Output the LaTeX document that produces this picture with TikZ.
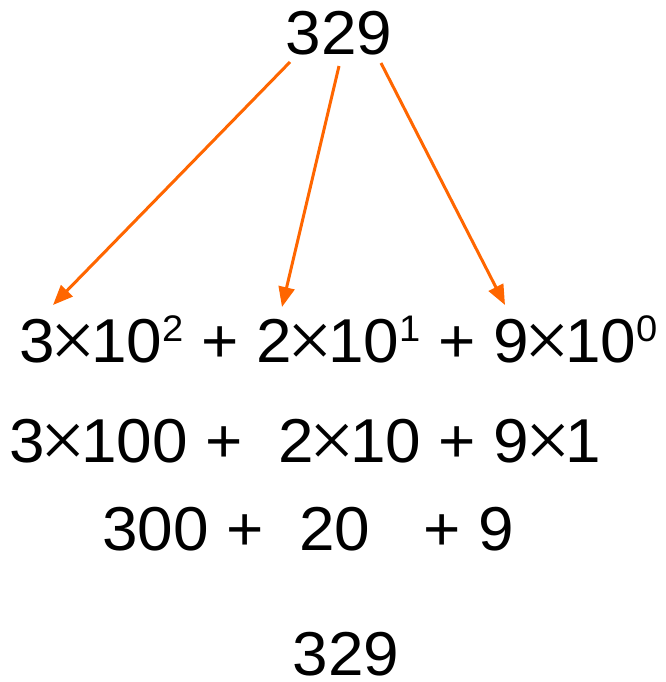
\documentclass[tikz,border=0pt]{standalone}
\usepackage{fontspec}
\usepackage{graphicx}
\setmainfont[FakeStretch=1.03]{Liberation Sans}
\newfontfamily\timesfont{Liberation Serif}
\usetikzlibrary{arrows.meta}
\definecolor{arr}{HTML}{FF6600}
\newcommand\mysup[1]{\raisebox{21pt}{\fontsize{37}{37}\selectfont #1}}
\newcommand\tms{\kern-4.5pt\raisebox{-5pt}{\scalebox{1.3}{\timesfont ×}}\kern-4.5pt}
\tikzset{
  txt/.style={inner sep=0pt, text depth=0pt, font=\fontsize{62}{62}\selectfont},
  arrline/.style={draw=arr, line width=3pt, -{Triangle[length=20pt,width=16pt]}}
}
\begin{document}
\begin{tikzpicture}[x=1pt,y=-1pt]
\useasboundingbox (0,0) rectangle (665,682);
\node[txt, anchor=base] (top) at (339,55) {329};
\node[txt, anchor=base west] (r1) at (19,362) {3\tms10\mysup{2} + 2\tms10\mysup{1} + 9\tms10\mysup{0}};
\node[txt, anchor=base west] (r2) at (9,462) {3\tms100 +~ 2\tms10 + 9\tms1};
\node[txt, anchor=base west] (r3) at (102,550) {300 +~ 20~~ + 9};
\node[txt, anchor=base] (bot) at (346,675) {329};
\coordinate (s1) at (290,62);
\coordinate (s2) at (339,66);
\coordinate (s3) at (381,63);
\coordinate (t1) at (53,305);
\coordinate (t2) at (282,307);
\coordinate (t3) at (505,305);
\draw[arrline] (s1) -- (t1);
\draw[arrline] (s2) -- (t2);
\draw[arrline] (s3) -- (t3);
\end{tikzpicture}
\end{document}
